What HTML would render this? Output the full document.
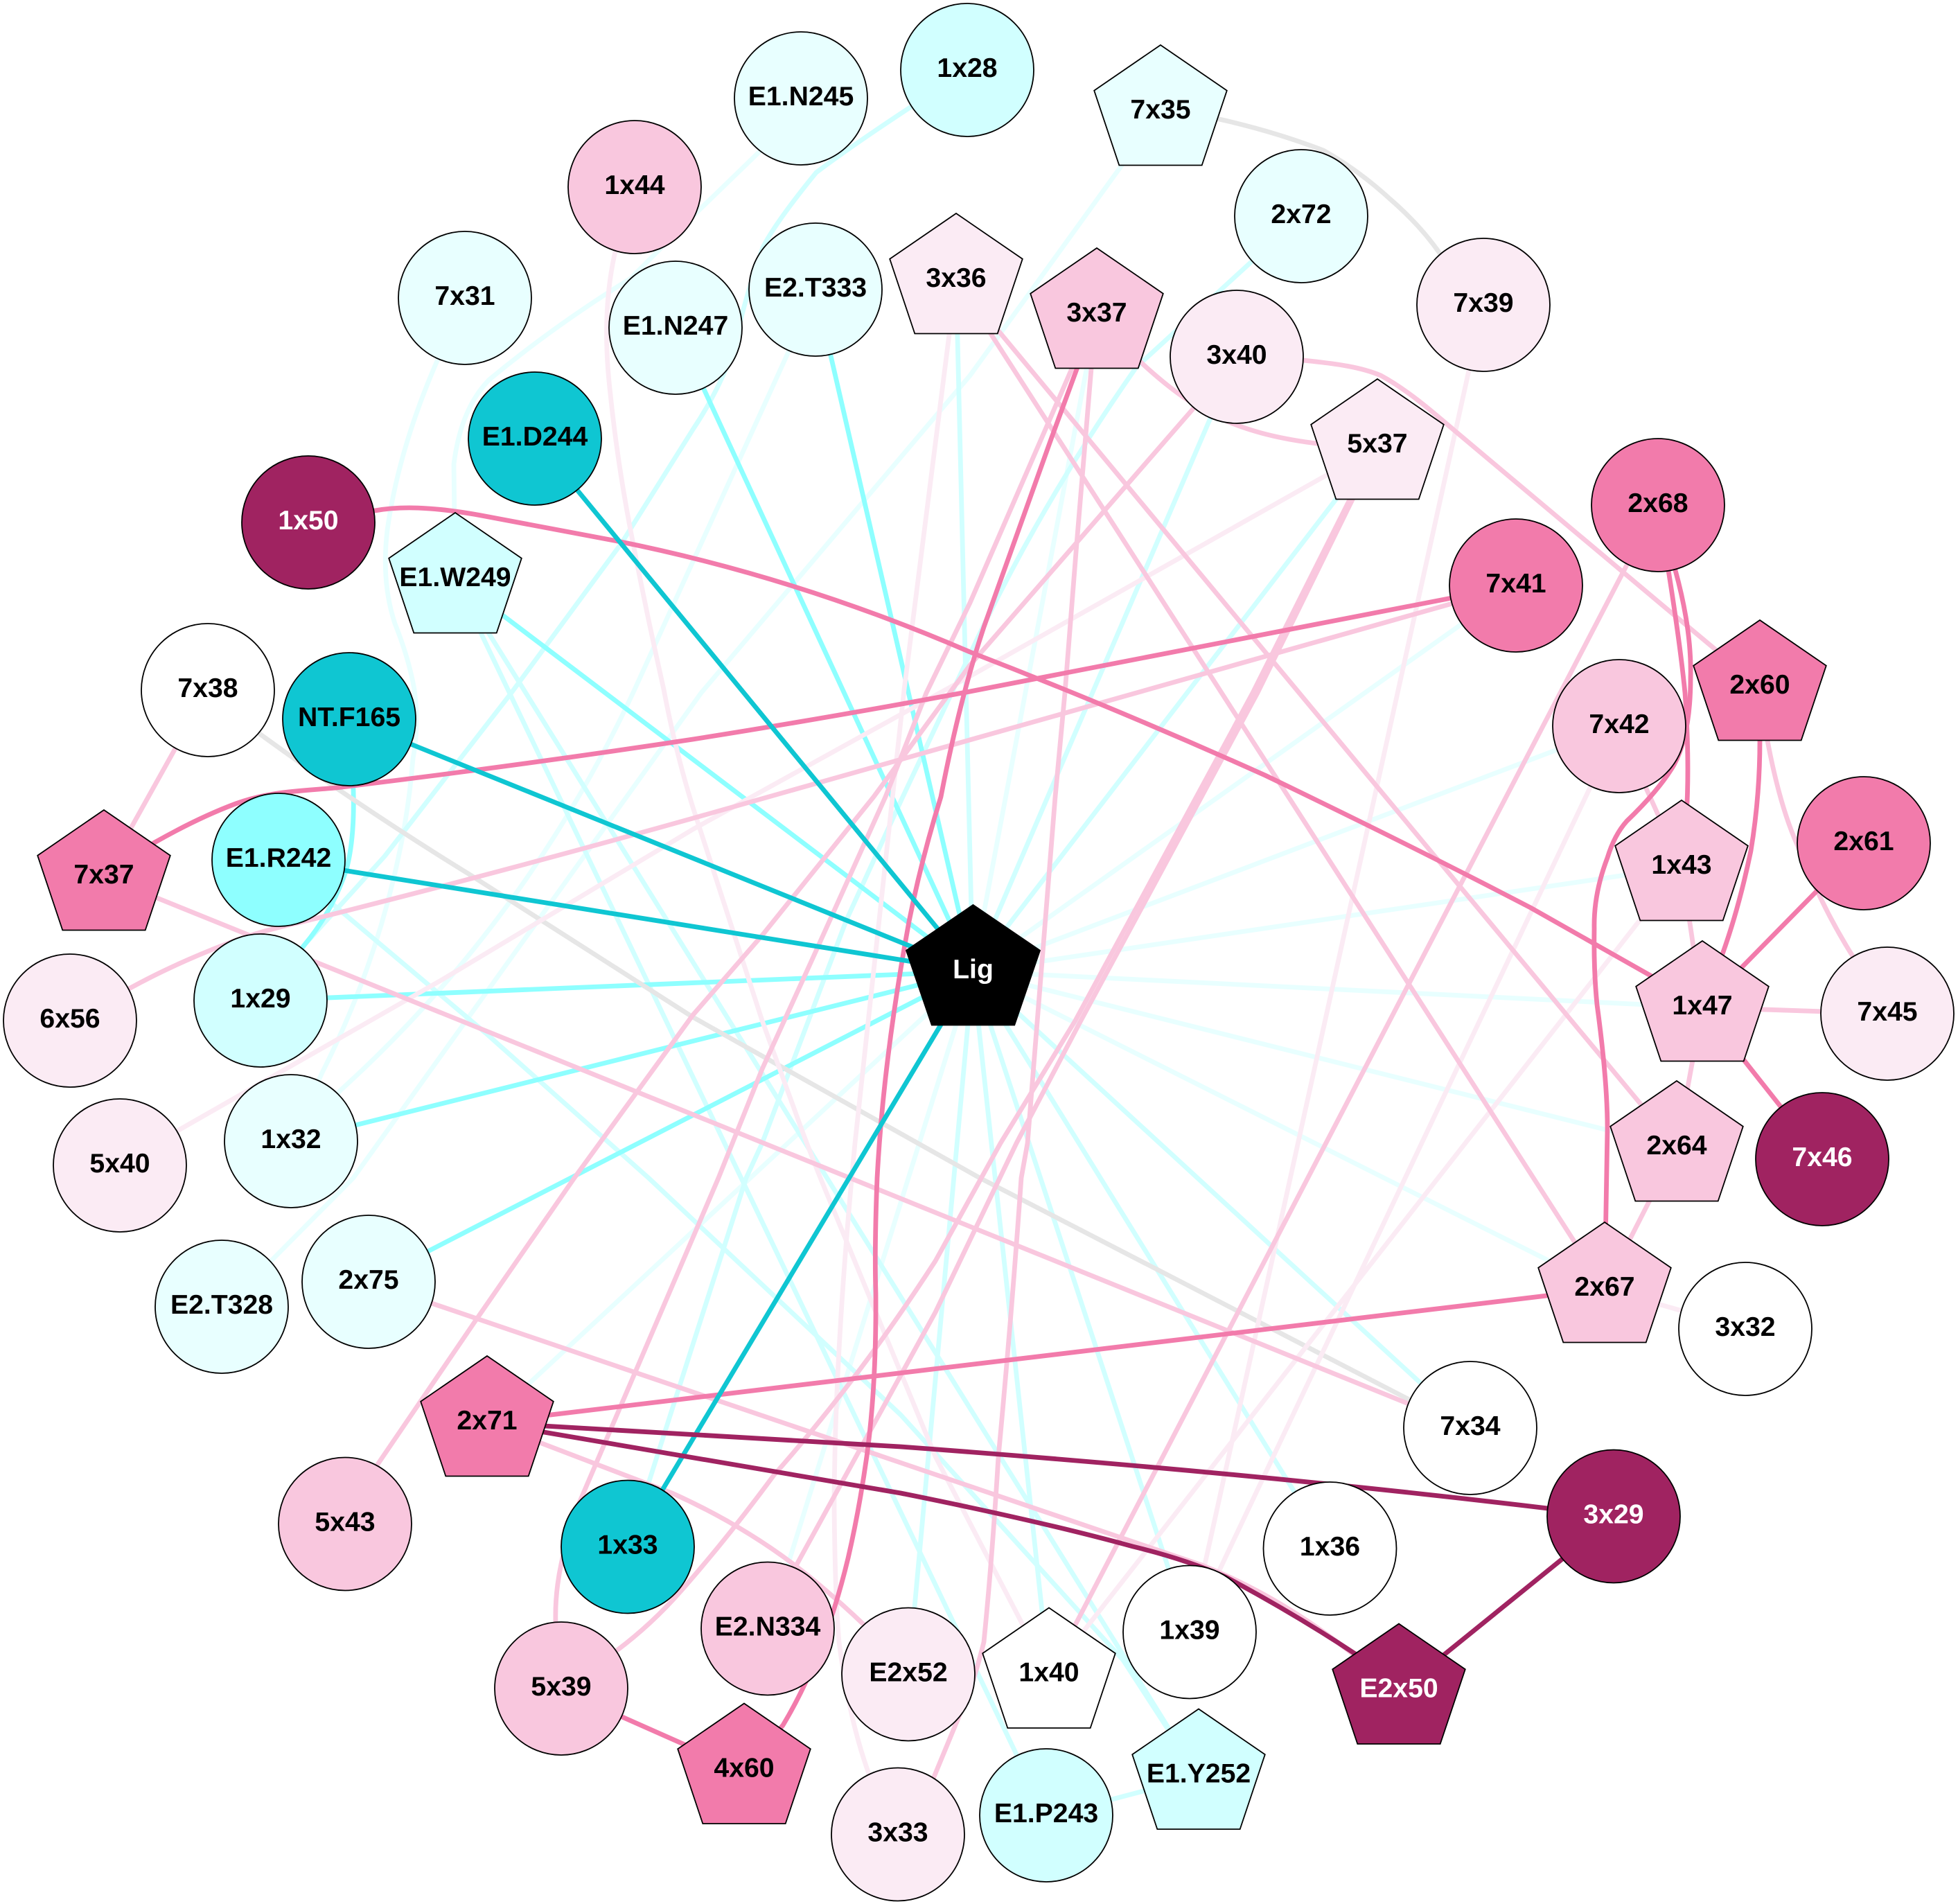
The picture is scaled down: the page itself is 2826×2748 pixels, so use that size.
<!DOCTYPE html>
<html><head><meta charset="utf-8"><style>
html,body{margin:0;padding:0;background:#fff}
svg{display:block}
.e path{fill:none;stroke-width:6.8;stroke-linejoin:round}
.n text{font:bold 39.2px "Liberation Sans",Arial,sans-serif;text-anchor:middle}
.n circle,.n polygon{stroke:#000;stroke-width:1.8}
.w{fill:#fff}.c3{fill:#e8ffff}.c2{fill:#d1ffff}.c1{fill:#8effff}.t{fill:#0fc6d2}
.p3{fill:#fbebf4}.p2{fill:#f9c7de}.p1{fill:#f27bab}.m{fill:#a02361}.k{fill:#000}
text.l{fill:#fff}text{fill:#000}
</style></head><body>
<svg width="2826" height="2748" viewBox="0 0 2826 2748" xmlns="http://www.w3.org/2000/svg">
<rect width="2826" height="2748" fill="#fff"/>
<g class="e">
<g style="stroke:#e8ffff">
<path d="M1404 1402L1583 454"/>
<path d="M1404 1402L1108 2352"/>
<path d="M1404 1402L703 2053"/>
<path d="M1404 1402L2316 1860"/>
<path d="M1404 1402L2420 1656"/>
<path d="M1404 1402L2457 1454"/>
<path d="M1404 1402L2427 1251"/>
<path d="M1404 1402L2337 1048"/>
<path d="M1404 1402L2188 845"/>
<path d="M1156 142L1095 220L1000 312L910 402Q800 470 706 548Q665 590 655 670L657 836"/>
<path d="M671 430L630 523Q575 650 559 765Q550 840 570 900Q590 950 598 995Q605 1050 596 1095Q590 1170 574 1242Q540 1400 465 1548L420 1647"/>
<path d="M320 1886L394 1817L510 1700L1012 1000L1400 542L1675 161"/>
<path d="M1177 418L1137 510L916 995Q760 1330 491 1574L420 1647"/>
</g>
<g style="stroke:#d1ffff">
<path d="M1404 1402L1380 404"/>
<path d="M1404 1402L1785 515"/>
<path d="M1404 1402L1988 643"/>
<path d="M1404 1402L1311 2418"/>
<path d="M1404 1402L1514 2418"/>
<path d="M1404 1402L1717 2357"/>
<path d="M1404 1402L1920 2237"/>
<path d="M1404 1402L2122 2062"/>
<path d="M657 836L1510 2622"/>
<path d="M657 836L1730 2564"/>
<path d="M1510 2622L1730 2564"/>
<path d="M402 1241L478 1303L701 1491L936 1700L1300 2042L1621 2396L1730 2564"/>
<path d="M1396 101L1312 156Q1230 210 1178 249Q1120 320 1101 357Q1075 430 1060 500Q1040 560 1000 620L897 784L738 1000L555 1236L440 1363L376 1444"/>
<path d="M1878 312L1640 530Q1500 730 1400 944L1303 1150L1222 1327L1100 1650L1077 1700L940 2128L906 2234"/>
</g>
<g style="stroke:#8effff">
<path d="M1404 1402L1177 418"/>
<path d="M1404 1402L975 473"/>
<path d="M1404 1402L657 836"/>
<path d="M1404 1402L376 1444"/>
<path d="M1404 1402L420 1647"/>
<path d="M1404 1402L532 1850"/>
<path d="M504 1038L510 1140Q512 1210 500 1255Q480 1315 440 1363L376 1444"/>
</g>
<g style="stroke:#e6e6e6">
<path d="M300 996L376 1060Q520 1165 676 1261L1000 1468L1414 1700L2030 2018L2122 2062"/>
<path d="M1675 161L1760 172Q1840 190 1910 217Q1960 245 2006 287Q2050 325 2079 367L2141 440"/>
</g>
<g style="stroke:#fbebf4">
<path d="M1988 643L1916 685L1400 976L1000 1197L638 1414L258 1631L173 1682"/>
<path d="M2337 1048L1717 2357"/>
<path d="M2427 1251L1514 2418"/>
<path d="M2141 440L1717 2357"/>
<path d="M1380 404L1305 995L1234 1650Q1205 1950 1204 2169Q1205 2300 1211 2370Q1225 2480 1254 2560L1296 2649"/>
<path d="M916 270L888 363Q868 450 880 560Q890 660 910 765Q932 880 958 995Q975 1085 1000 1165L1100 1473L1157 1630Q1170 1665 1184 1700L1350 2102L1514 2418"/>
<path d="M2316 1860L2519 1918"/>
</g>
<g style="stroke:#f9c7de">
<path d="M2188 845L1000 1181Q700 1265 434 1331Q370 1345 325 1363Q250 1392 188 1426L101 1473"/>
<path d="M1583 454L1650 526C1720 590 1780 625 1900 640L1988 650"/>
<path d="M1785 515L1881 520C1930 525 1965 530 1993 542C2030 562 2065 592 2100 622L2400 874L2540 991"/>
<path d="M1583 454L1575 532L1553 797L1537 1000L1523 1150L1483 1650L1474 1700Q1460 1900 1441 2102Q1432 2250 1420 2370Q1405 2430 1390 2463L1347 2567L1296 2649"/>
<path d="M1583 454L1547 532L1400 870L1337 1000L1278 1150L1173 1383L1100 1543L1037 1700L836 2169C815 2230 800 2280 802 2343L810 2439"/>
<path d="M1785 515L1722 590L1400 960L1261 1150L1100 1350L1000 1465L829 1700L685 1908L544 2115L498 2201"/>
<path d="M1988 643L1948 721L1808 1000L1552 1473L1444 1650L1350 1820Q1240 1990 1117 2129Q1050 2220 983 2296Q940 2345 889 2383L810 2439"/>
<path d="M1988 643L1952 721L1815 1000L1560 1473L1467 1650L1350 1894L1151 2256L1108 2352"/>
<path d="M2393 729L1514 2418"/>
<path d="M1380 404L2316 1860"/>
<path d="M1380 404L2420 1656"/>
<path d="M150 1265L2122 2062"/>
<path d="M300 996L150 1265"/>
<path d="M532 1850L1735 2259Q1850 2305 1956 2390L2019 2441"/>
<path d="M703 2053L970 2155Q1070 2200 1151 2262Q1200 2300 1248 2346L1311 2418"/>
<path d="M2337 1048L2376 1138L2427 1251"/>
<path d="M2427 1251L2457 1454"/>
<path d="M2457 1454L2724 1463"/>
<path d="M2457 1454L2420 1656"/>
<path d="M2420 1656L2316 1860"/>
<path d="M2540 991L2551 1069Q2570 1170 2598 1228Q2630 1310 2674 1380L2724 1463"/>
</g>
<g style="stroke:#f27bab">
<path d="M445 754L541 737C575 731 620 730 700 745L891 781Q1150 833 1400 941Q1610 1022 1826 1119Q2040 1222 2209 1310L2384 1409L2457 1454"/>
<path d="M2188 845L1400 998Q1190 1037 1000 1067Q750 1105 485 1137C430 1142 390 1142 340 1160C300 1175 260 1195 223 1216L150 1265"/>
<path d="M1583 454L1518 631L1420 905Q1385 1010 1358 1150Q1330 1240 1312 1330Q1275 1530 1266 1700Q1262 1800 1264 1867Q1265 2000 1251 2102Q1240 2180 1224 2249Q1190 2390 1130 2490L1074 2556"/>
<path d="M703 2053L2316 1860"/>
<path d="M2393 729L2418 823Q2442 910 2440 979Q2440 1060 2416 1104Q2395 1140 2348 1185Q2330 1205 2320 1238Q2300 1290 2301 1340Q2300 1400 2305 1450Q2320 1560 2320 1629L2316 1860"/>
<path d="M2393 729L2408 823Q2425 930 2432 1000Q2438 1090 2435 1158L2427 1251"/>
<path d="M2540 991L2540 1069Q2540 1150 2527 1228Q2510 1310 2486 1377L2457 1454"/>
<path d="M2457 1454L2690 1217"/>
<path d="M2457 1454L2630 1673"/>
<path d="M810 2439L1074 2556"/>
</g>
<g style="stroke:#0fc6d2">
<path d="M1404 1402L772 633"/>
<path d="M1404 1402L504 1038"/>
<path d="M1404 1402L402 1241"/>
<path d="M1404 1402L906 2234"/>
</g>
<g style="stroke:#a02361">
<path d="M703 2053L785 2058L1300 2088Q1800 2125 2234 2177L2329 2190"/>
<path d="M703 2053L1300 2155Q1500 2195 1635 2232Q1710 2250 1769 2276Q1870 2330 1956 2387L2019 2441"/>
<path d="M2329 2190L2019 2441"/>
</g>
</g>
<g class="n">
<g transform="translate(1396,101)"><circle r="96" class="c2"/><text y="10">1x28</text></g>
<g transform="translate(1156,142)"><circle r="96" class="c3"/><text y="10">E1.N245</text></g>
<g transform="translate(916,270)"><circle r="96" class="p2"/><text y="10">1x44</text></g>
<g transform="translate(671,430)"><circle r="96" class="c3"/><text y="10">7x31</text></g>
<g transform="translate(975,473)"><circle r="96" class="c3"/><text y="10">E1.N247</text></g>
<g transform="translate(1177,418)"><circle r="96" class="c3"/><text y="10">E2.T333</text></g>
<g transform="translate(772,633)"><circle r="96" class="t"/><text y="10">E1.D244</text></g>
<g transform="translate(445,754)"><circle r="96" class="m"/><text y="10" class="l">1x50</text></g>
<g transform="translate(300,996)"><circle r="96" class="w"/><text y="10">7x38</text></g>
<g transform="translate(504,1038)"><circle r="96" class="t"/><text y="10">NT.F165</text></g>
<g transform="translate(402,1241)"><circle r="96" class="c1"/><text y="10">E1.R242</text></g>
<g transform="translate(376,1444)"><circle r="96" class="c2"/><text y="10">1x29</text></g>
<g transform="translate(101,1473)"><circle r="96" class="p3"/><text y="10">6x56</text></g>
<g transform="translate(173,1682)"><circle r="96" class="p3"/><text y="10">5x40</text></g>
<g transform="translate(420,1647)"><circle r="96" class="c3"/><text y="10">1x32</text></g>
<g transform="translate(320,1886)"><circle r="96" class="c3"/><text y="10">E2.T328</text></g>
<g transform="translate(532,1850)"><circle r="96" class="c3"/><text y="10">2x75</text></g>
<g transform="translate(498,2199.5)"><circle r="96" class="p2"/><text y="10">5x43</text></g>
<g transform="translate(906,2232.5)"><circle r="96" class="t"/><text y="10">1x33</text></g>
<g transform="translate(810,2437)"><circle r="96" class="p2"/><text y="10">5x39</text></g>
<g transform="translate(1108,2350.5)"><circle r="96" class="p2"/><text y="10">E2.N334</text></g>
<g transform="translate(1311,2416.5)"><circle r="96" class="p3"/><text y="10">E2x52</text></g>
<g transform="translate(1296,2647.5)"><circle r="96" class="p3"/><text y="10">3x33</text></g>
<g transform="translate(1510,2620)"><circle r="96" class="c2"/><text y="10">E1.P243</text></g>
<g transform="translate(1717,2355.5)"><circle r="96" class="w"/><text y="10">1x39</text></g>
<g transform="translate(1919.5,2235)"><circle r="96" class="w"/><text y="10">1x36</text></g>
<g transform="translate(2122,2061)"><circle r="96" class="w"/><text y="10">7x34</text></g>
<g transform="translate(2329,2188.5)"><circle r="96" class="m"/><text y="10" class="l">3x29</text></g>
<g transform="translate(2519,1918)"><circle r="96" class="w"/><text y="10">3x32</text></g>
<g transform="translate(2630,1673)"><circle r="96" class="m"/><text y="10" class="l">7x46</text></g>
<g transform="translate(2724,1463)"><circle r="96" class="p3"/><text y="10">7x45</text></g>
<g transform="translate(2690,1217)"><circle r="96" class="p1"/><text y="10">2x61</text></g>
<g transform="translate(2337,1048)"><circle r="96" class="p2"/><text y="10">7x42</text></g>
<g transform="translate(2188,845)"><circle r="96" class="p1"/><text y="10">7x41</text></g>
<g transform="translate(2393,729)"><circle r="96" class="p1"/><text y="10">2x68</text></g>
<g transform="translate(2141,440)"><circle r="96" class="p3"/><text y="10">7x39</text></g>
<g transform="translate(1785,515)"><circle r="96" class="p3"/><text y="10">3x40</text></g>
<g transform="translate(1878,312)"><circle r="96" class="c3"/><text y="10">2x72</text></g>

<g transform="translate(1675,161)"><polygon class="c3" points="0,-96 95.8,-30.3 59.7,77.5 -59.7,77.5 -95.8,-30.3"/><text y="10">7x35</text></g>
<g transform="translate(1380,404)"><polygon class="p3" points="0,-96 95.8,-30.3 59.7,77.5 -59.7,77.5 -95.8,-30.3"/><text y="10">3x36</text></g>
<g transform="translate(1583,454)"><polygon class="p2" points="0,-96 95.8,-30.3 59.7,77.5 -59.7,77.5 -95.8,-30.3"/><text y="10">3x37</text></g>
<g transform="translate(1988,643)"><polygon class="p3" points="0,-96 95.8,-30.3 59.7,77.5 -59.7,77.5 -95.8,-30.3"/><text y="10">5x37</text></g>
<g transform="translate(657,836)"><polygon class="c2" points="0,-96 95.8,-30.3 59.7,77.5 -59.7,77.5 -95.8,-30.3"/><text y="10">E1.W249</text></g>
<g transform="translate(2540,991)"><polygon class="p1" points="0,-96 95.8,-30.3 59.7,77.5 -59.7,77.5 -95.8,-30.3"/><text y="10">2x60</text></g>
<g transform="translate(2427,1251)"><polygon class="p2" points="0,-96 95.8,-30.3 59.7,77.5 -59.7,77.5 -95.8,-30.3"/><text y="10">1x43</text></g>
<g transform="translate(2457,1454)"><polygon class="p2" points="0,-96 95.8,-30.3 59.7,77.5 -59.7,77.5 -95.8,-30.3"/><text y="10">1x47</text></g>
<g transform="translate(2420,1656)"><polygon class="p2" points="0,-96 95.8,-30.3 59.7,77.5 -59.7,77.5 -95.8,-30.3"/><text y="10">2x64</text></g>
<g transform="translate(2316,1860)"><polygon class="p2" points="0,-96 95.8,-30.3 59.7,77.5 -59.7,77.5 -95.8,-30.3"/><text y="10">2x67</text></g>
<g transform="translate(150,1265)"><polygon class="p1" points="0,-96 95.8,-30.3 59.7,77.5 -59.7,77.5 -95.8,-30.3"/><text y="10">7x37</text></g>
<g transform="translate(703,2053)"><polygon class="p1" points="0,-96 95.8,-30.3 59.7,77.5 -59.7,77.5 -95.8,-30.3"/><text y="10">2x71</text></g>
<g transform="translate(1514,2416.5)"><polygon class="w" points="0,-96 95.8,-30.3 59.7,77.5 -59.7,77.5 -95.8,-30.3"/><text y="10">1x40</text></g>
<g transform="translate(2019,2439.5)"><polygon class="m" points="0,-96 95.8,-30.3 59.7,77.5 -59.7,77.5 -95.8,-30.3"/><text y="10" class="l">E2x50</text></g>
<g transform="translate(1730,2562.5)"><polygon class="c2" points="0,-96 95.8,-30.3 59.7,77.5 -59.7,77.5 -95.8,-30.3"/><text y="10">E1.Y252</text></g>
<g transform="translate(1074,2554.5)"><polygon class="p1" points="0,-96 95.8,-30.3 59.7,77.5 -59.7,77.5 -95.8,-30.3"/><text y="10">4x60</text></g>
<g transform="translate(1404.5,1402)"><polygon class="k" points="0,-96 96.5,-30.3 59.7,77.5 -59.7,77.5 -96.5,-30.3"/><text y="10" class="l">Lig</text></g>
</g>
</svg>
</body></html>
